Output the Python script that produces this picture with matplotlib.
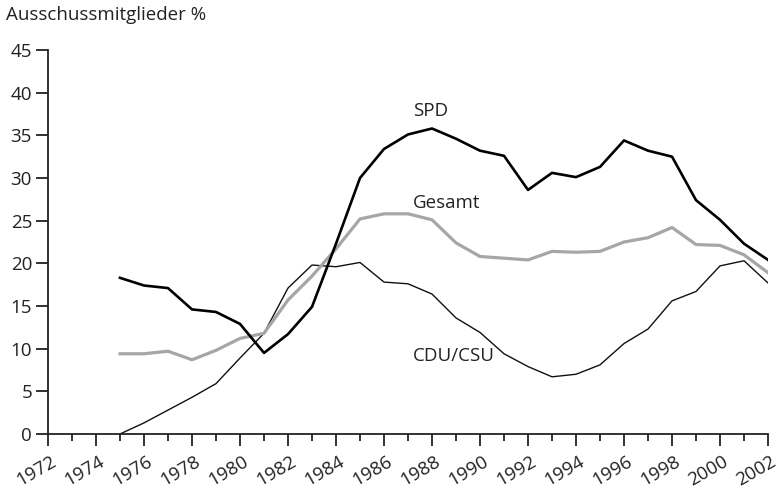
import matplotlib
matplotlib.use("Agg")
import matplotlib.pyplot as plt
import matplotlib.transforms as mtransforms
import numpy as np

plt.rcParams['font.family'] = ['Open Sans', 'DejaVu Sans']

years = list(range(1975, 2003))
spd = [18.3, 17.4, 17.1, 14.6, 14.3, 12.9, 9.5, 11.7, 14.9, 22.3, 30.0, 33.4, 35.1, 35.8,
       34.6, 33.2, 32.6, 28.6, 30.6, 30.1, 31.3, 34.4, 33.2, 32.5, 27.4, 25.1, 22.3, 20.4]
gesamt = [9.4, 9.4, 9.7, 8.7, 9.8, 11.2, 11.8, 15.7, 18.5, 21.7, 25.2, 25.8, 25.8, 25.1,
          22.4, 20.8, 20.6, 20.4, 21.4, 21.3, 21.4, 22.5, 23.0, 24.2, 22.2, 22.1, 21.0, 18.9]
cdu = [0.0, 1.3, 2.8, 4.3, 5.9, 8.9, 11.8, 17.1, 19.8, 19.6, 20.1, 17.8, 17.6, 16.4,
       13.6, 11.9, 9.4, 7.9, 6.7, 7.0, 8.1, 10.6, 12.3, 15.6, 16.7, 19.7, 20.3, 17.7]

x_major = list(range(1972, 2003, 2))
x_minor = list(range(1973, 2002, 2))
y_ticks = [0, 5, 10, 15, 20, 25, 30, 35, 40, 45]

FS = 13.5

fig = plt.figure(figsize=(7.79, 4.93), dpi=100)
ax = fig.add_axes([0.0616, 0.1197, 0.9243, 0.7789])

ax.plot(years, cdu, color='#111111', lw=1.0)
ax.plot(years, gesamt, color='#a6a6a6', lw=2.3)
ax.plot(years, spd, color='#000000', lw=1.9)

ax.set_xlim(1972, 2002)
ax.set_ylim(0, 45)
for s in ['top', 'right']:
    ax.spines[s].set_visible(False)
for s in ['left', 'bottom']:
    ax.spines[s].set_linewidth(1.3)
    ax.spines[s].set_color('#222222')

ax.set_yticks(y_ticks)
ax.set_yticklabels([str(v) for v in y_ticks])
ax.set_xticks(x_major)
ax.set_xticks(x_minor, minor=True)
ax.set_xticklabels([str(v) for v in x_major], rotation=30, ha='right', rotation_mode='anchor')
ax.tick_params(axis='y', direction='out', length=8.5, width=1.3, color='#222222',
               labelsize=FS, labelcolor='#222222', pad=3)
ax.tick_params(axis='x', which='major', direction='out', length=8.5, width=1.3, color='#222222',
               labelsize=FS, labelcolor='#222222', pad=5)
ax.tick_params(axis='x', which='minor', direction='out', length=5, width=1.3, color='#222222')

offset = mtransforms.ScaledTranslation(2.5 / 100, 0, fig.dpi_scale_trans)
for lab in ax.get_xticklabels():
    lab.set_transform(lab.get_transform() + offset)

ax.text(1987.2, 37.9, 'SPD', fontsize=FS, color='#222222', va='center', ha='left')
ax.text(1987.2, 27.1, 'Gesamt', fontsize=FS, color='#222222', va='center', ha='left')
ax.text(1987.2, 9.1, 'CDU/CSU', fontsize=FS, color='#222222', va='center', ha='left')

fig.text(6 / 779, 1 - 15 / 493, 'Ausschussmitglieder %', fontsize=FS, color='#222222',
         va='center', ha='left')

fig.savefig('out.png', dpi=100)
